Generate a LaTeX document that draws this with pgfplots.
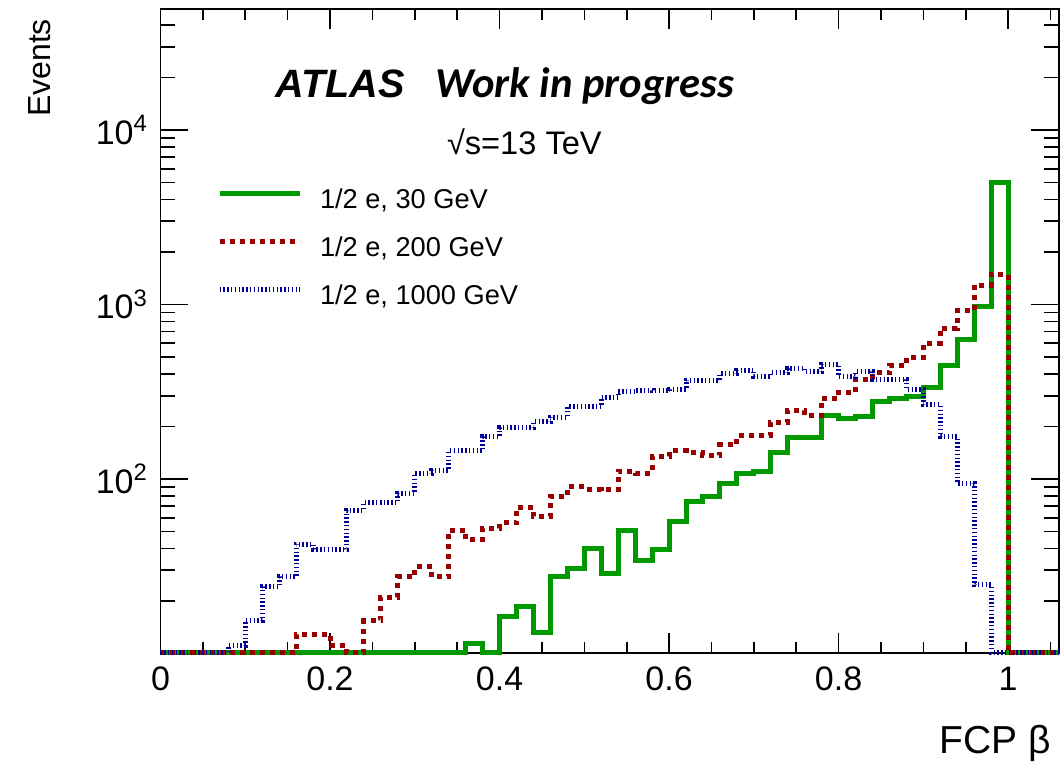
\documentclass[border=0pt]{standalone}
\usepackage{fontspec}
\setmainfont{Liberation Sans}
\newfontfamily\calibri{Carlito}
\usepackage{pgfplots}
\pgfplotsset{compat=1.18}
\usepackage{pgfplotstable}
\definecolor{rgreen}{RGB}{0,153,0}
\definecolor{rred}{RGB}{153,0,0}
\definecolor{rblue}{RGB}{0,0,153}

% bin left edges (width 0.02); 10.066 = empty bin (drawn on the floor)
\pgfplotstableread{
x y
0.00 10.066
0.02 10.066
0.04 10.066
0.06 10.066
0.08 10.066
0.10 10.066
0.12 10.066
0.14 10.066
0.16 10.066
0.18 10.066
0.20 10.066
0.22 10.066
0.24 10.066
0.26 10.066
0.28 10.066
0.30 10.066
0.32 10.066
0.34 10.066
0.36 11.4
0.38 10.066
0.40 16.3
0.42 18.5
0.44 13.2
0.46 27.8
0.48 30.8
0.50 40.1
0.52 28.8
0.54 51
0.56 34
0.58 39.2
0.60 56.9
0.62 74.1
0.64 79.9
0.66 94.5
0.68 107.8
0.70 110
0.72 141.5
0.74 173
0.76 173
0.78 232
0.80 223
0.82 227
0.84 277
0.86 290
0.88 296
0.90 335
0.92 450
0.94 632
0.96 980
0.98 4990
1.00 10.066
1.02 10.066
1.04 10.066
1.06 10.066
}\greendata

\pgfplotstableread{
x y
0.00 10.066
0.02 10.066
0.04 10.066
0.06 10.066
0.08 10.066
0.10 10.066
0.12 10.066
0.14 10.066
0.16 12.9
0.18 12.9
0.20 11.1
0.22 10.066
0.24 15.4
0.26 21
0.28 27.5
0.30 31.4
0.32 27.5
0.34 51
0.36 45
0.38 52
0.40 56
0.42 69
0.44 61
0.46 79
0.48 90
0.50 87
0.52 86.5
0.54 111
0.56 108
0.58 134
0.60 145
0.62 141
0.64 137
0.66 157
0.68 178
0.70 178
0.72 211
0.74 246
0.76 231
0.78 290
0.80 315
0.82 373
0.84 406
0.86 450
0.88 499
0.90 599
0.92 728
0.94 922
0.96 1293
0.98 1487
1.00 10.066
1.02 10.066
1.04 10.066
1.06 10.066
}\reddata

\pgfplotstableread{
x y
0.00 10.066
0.02 10.066
0.04 10.066
0.06 10.066
0.08 11.1
0.10 15.4
0.12 24.1
0.14 27.5
0.16 42.4
0.18 39.7
0.20 39.7
0.22 66.4
0.24 73.5
0.26 73.5
0.28 82.8
0.30 107.8
0.32 112.6
0.34 144.7
0.36 144.7
0.38 174.8
0.40 196.8
0.42 196.8
0.44 213
0.46 226
0.48 259
0.50 259
0.52 294
0.54 318
0.56 322
0.58 320
0.60 325
0.62 369
0.64 369
0.66 403
0.68 421
0.70 386
0.72 406
0.74 431
0.76 412
0.78 455
0.80 386
0.82 412
0.84 373
0.86 373
0.88 327
0.90 266
0.92 175
0.94 94.5
0.96 24.7
0.98 10.066
1.00 10.066
1.02 10.066
1.04 10.066
1.06 10.066
}\bluedata

\begin{document}
\begin{tikzpicture}
\begin{axis}[
  scale only axis,
  width=449.25pt, height=322pt,
  ymode=log,
  xmin=0, xmax=1.06,
  ymin=10.066, ymax=49370,
  clip=false,
  axis line style={line width=0.8pt},
  tick style={line width=0.8pt, black},
  major tick length=14pt,
  minor tick length=7.5pt,
  every major x tick/.append style={/pgfplots/major tick length=10pt},
  every minor x tick/.append style={/pgfplots/minor tick length=5.5pt},
  xtick={0,0.2,0.4,0.6,0.8,1},
  xticklabels={0,0.2,0.4,0.6,0.8,1},
  minor xtick={0.05,0.1,0.15,0.25,0.3,0.35,0.45,0.5,0.55,0.65,0.7,0.75,0.85,0.9,0.95,1.05},
  ytick={100,1000,10000},
  yticklabels={10\textsuperscript{2},10\textsuperscript{3},10\textsuperscript{4}},
  minor ytick={20,30,40,50,60,70,80,90,200,300,400,500,600,700,800,900,2000,3000,4000,5000,6000,7000,8000,9000,20000,30000,40000},
  xticklabel style={font=\fontsize{17}{20}\selectfont, yshift=-3.5pt},
  yticklabel style={font=\fontsize{17}{20}\selectfont, xshift=-2.8pt},
  legend cell align=left,
  legend image code/.code={\draw[#1] (0pt,4pt) -- (40pt,4pt);},
  legend style={draw=none, fill=none,
    at={(axis description cs:0.0629,0.6258)}, anchor=west,
    inner sep=0pt, outer sep=0pt, row sep=9pt, column sep=9pt,
    nodes={inner sep=0pt, text height=11pt, text depth=4pt,
      font=\fontsize{13.6}{16}\selectfont}},
]
\addplot[const plot mark left, rgreen, line width=2.5pt] table[x=x,y=y] {\greendata};
\addlegendentry{1/2 e, 30 GeV}
\addplot[const plot mark left, rred, line width=2.5pt, dash pattern=on 2.5pt off 2.5pt] table[x=x,y=y] {\reddata};
\addlegendentry{1/2 e, 200 GeV}
\addplot[const plot mark left, rblue, line width=2.5pt, dash pattern=on 0.7pt off 1.2pt] table[x=x,y=y] {\bluedata};
\addlegendentry{1/2 e, 1000 GeV}

\node[anchor=base west, font=\fontsize{19.8}{23}\selectfont\bfseries\itshape] at (axis description cs:0.1205,0.8626) {ATLAS};
\node[anchor=base west, font=\fontsize{21.3}{25}\selectfont\calibri\bfseries\itshape] at (axis description cs:0.2977,0.8626) {Work in progress};
\node[anchor=base west, font=\fontsize{16.3}{20}\selectfont] at (axis description cs:0.311,0.7733) {√s=13 TeV};
\node[anchor=base east, font=\fontsize{19.5}{23}\selectfont] at (axis description cs:0.9989,-0.1557) {FCP β};
\node[anchor=base east, rotate=90, font=\fontsize{16}{19}\selectfont] at (axis description cs:-0.1224,0.9953) {Events};
\end{axis}
\pgfresetboundingbox
\useasboundingbox (-80.25pt,-54pt) rectangle (450.25pt,326.5pt);
\end{tikzpicture}
\end{document}
